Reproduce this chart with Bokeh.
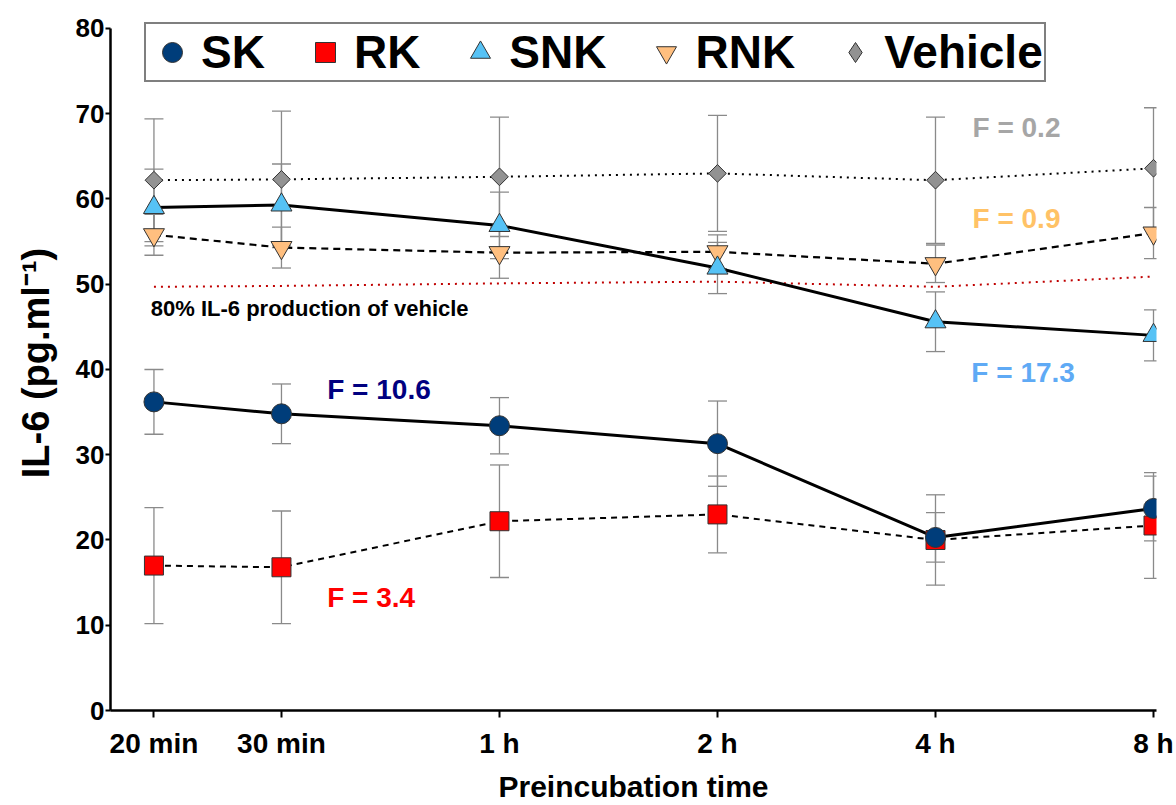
import numpy as np
from bokeh.plotting import figure
from bokeh.models import (ColumnDataSource, Whisker, TeeHead, Range1d, FixedTicker,
                          Legend, LegendItem, Label)
from bokeh.embed import file_html
from bokeh.resources import INLINE

# ---------------- data ----------------
times_min = [20, 30, 60, 120, 240, 480]
time_labels = ["20 min", "30 min", "1 h", "2 h", "4 h", "8 h"]
y_ticks = [0, 10, 20, 30, 40, 50, 60, 70, 80]

sk = [36.2, 34.8, 33.4, 31.3, 20.3, 23.7]
sk_err = [3.8, 3.5, 3.3, 5.0, 2.9, 3.8]
rk = [17.0, 16.8, 22.2, 23.0, 20.0, 21.7]
rk_err = [6.8, 6.6, 6.6, 4.5, 5.3, 6.2]
snk = [59.0, 59.3, 56.9, 51.9, 45.6, 44.0]
snk_err = [4.5, 4.8, 3.9, 3.0, 3.5, 3.0]
rnk = [55.8, 54.3, 53.7, 53.8, 52.4, 56.0]
rnk_err = [2.4, 2.4, 3.0, 2.0, 2.2, 3.0]
vehicle = [62.2, 62.3, 62.6, 63.0, 62.2, 63.6]
vehicle_err = [7.2, 8.0, 7.0, 6.8, 7.4, 7.1]
vehicle80 = [49.7, 49.8, 50.1, 50.3, 49.7, 50.9]

f_texts = ["F = 10.6", "F = 3.4", "F = 0.2", "F = 0.9", "F = 17.3"]
f_colors = ["#000080", "#ff0000", "#a6a6a6", "#ffc266", "#5faaf5"]
f_x = [34.7, 34.7, 270.0, 270.0, 269.0]
f_y = [37.6, 13.2, 68.4, 57.7, 39.7]
note_text = "80% IL-6 production of vehicle"

FONT = "Liberation Sans"

p = figure(width=1176, height=805, output_backend="svg", toolbar_location=None,
           x_axis_type="log", x_range=Range1d(17.42, 484.6), y_range=Range1d(0, 81.52),
           min_border_left=110, min_border_right=20, min_border_top=15, min_border_bottom=94)
p.grid.visible = False
p.outline_line_color = None
p.background_fill_color = "white"

def src(vals, errs):
    return ColumnDataSource(dict(x=times_min, y=vals,
                                 upper=[v + e for v, e in zip(vals, errs)],
                                 lower=[v - e for v, e in zip(vals, errs)]))

series = [
    # name, vals, errs, marker, size, fill, dash, lw, angle
    ("Vehicle", vehicle, vehicle_err, "square", 12.5, "#929292", "2 5", 2, np.pi / 4),
    ("RNK", rnk, rnk_err, "inverted_triangle", 21, "#ffbf7f", "7 5", 2.2, 0),
    ("SNK", snk, snk_err, "triangle", 21, "#56c2f5", "solid", 3, 0),
    ("RK", rk, rk_err, "square", 19, "#ff0000", "6 5", 2, 0),
    ("SK", sk, sk_err, "circle", 20, "#003d7a", "solid", 3, 0),
]

err_color = "#8a8a8a"
sources = {}
for name, vals, errs, *_ in series:
    s = src(vals, errs)
    sources[name] = s
    w = Whisker(source=s, base="x", upper="upper", lower="lower", level="underlay",
                line_color=err_color, line_width=1.3,
                upper_head=TeeHead(size=19, line_color=err_color, line_width=1.3),
                lower_head=TeeHead(size=19, line_color=err_color, line_width=1.3))
    p.add_layout(w)

# 80% vehicle reference line
p.line(times_min, vehicle80, line_color="#c00000", line_width=2, line_dash="2 5")

for name, vals, errs, marker, size, fill, dash, lw, ang in series:
    p.line("x", "y", source=sources[name], line_color="black", line_width=lw, line_dash=dash)

marker_r = {}
for name, vals, errs, marker, size, fill, dash, lw, ang in series:
    marker_r[name] = p.scatter("x", "y", source=sources[name], marker=marker, size=size,
                               angle=ang, fill_color=fill, line_color="#333333", line_width=1)

# legend-only proxy for vehicle (diamond shape in the key; zero size in the plot)
veh_proxy = p.scatter("x", "y", source=sources["Vehicle"], marker="diamond", size=0,
                      fill_color="#929292", line_color="#333333", line_width=1,
                      level="underlay")

items = [LegendItem(label="SK", renderers=[marker_r["SK"]]),
         LegendItem(label="RK", renderers=[marker_r["RK"]]),
         LegendItem(label="SNK", renderers=[marker_r["SNK"]]),
         LegendItem(label="RNK", renderers=[marker_r["RNK"]]),
         LegendItem(label="Vehicle", renderers=[veh_proxy])]
legend = Legend(items=items, orientation="horizontal", location=(34, 628),
                label_text_font=FONT, label_text_font_style="bold", label_text_font_size="46px",
                label_text_color="black",
                glyph_width=50, glyph_height=50, label_standoff=4, spacing=35, padding=1,
                margin=0, border_line_color="black", border_line_width=2,
                background_fill_color="white", background_fill_alpha=1)
p.add_layout(legend)

for t, c, lx, ly in zip(f_texts, f_colors, f_x, f_y):
    p.add_layout(Label(x=lx, y=ly, text=t, text_color=c, text_font=FONT,
                       text_font_style="bold", text_font_size="28px",
                       text_baseline="middle", text_align="left"))
p.add_layout(Label(x=19.8, y=47.2, text=note_text, text_color="black", text_font=FONT,
                   text_font_style="bold", text_font_size="22px",
                   text_baseline="middle", text_align="left"))

# axes
p.xaxis.ticker = FixedTicker(ticks=times_min)
p.xaxis.major_label_overrides = {t: l for t, l in zip(times_min, time_labels)}
p.yaxis.ticker = FixedTicker(ticks=y_ticks)
p.yaxis.bounds = (0, 80)
for ax in (p.xaxis, p.yaxis):
    ax.axis_line_width = 2.5
    ax.axis_line_color = "black"
    ax.major_tick_line_width = 2
    ax.major_tick_in = 0
    ax.minor_tick_line_color = None
    ax.major_label_text_font = FONT
    ax.major_label_text_font_style = "bold"
    ax.major_label_text_color = "black"
    ax.axis_label_text_font = FONT
    ax.axis_label_text_font_style = "bold"
    ax.axis_label_text_color = "black"
p.xaxis.major_tick_out = 7
p.yaxis.major_tick_out = 5
p.xaxis.major_label_text_font_size = "28px"
p.yaxis.major_label_text_font_size = "26px"
p.xaxis.major_label_standoff = 10
p.yaxis.major_label_standoff = 1
p.xaxis.axis_label = "Preincubation time"
p.xaxis.axis_label_text_font_size = "30px"
p.xaxis.axis_label_standoff = 8
p.yaxis.axis_label = "IL-6 (pg.ml\u207b\u00b9)"
p.yaxis.axis_label_text_font_size = "38px"
p.yaxis.axis_label_standoff = 16

open("out.html", "w").write(file_html(p, INLINE))
